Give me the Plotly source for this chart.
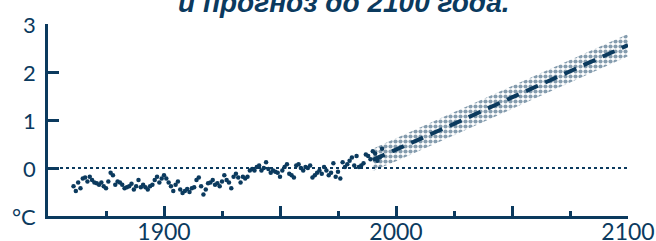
import plotly.graph_objects as go

NAVY = "#0b3a5e"

obs_years = list(range(1861, 1995))
obs_temp = [
    -0.38, -0.48, -0.30, -0.42, -0.22, -0.20, -0.28, -0.18, -0.25, -0.30,
    -0.32, -0.35, -0.30, -0.38, -0.42, -0.28, -0.10, -0.15, -0.35, -0.28,
    -0.30, -0.35, -0.42, -0.40, -0.38, -0.33, -0.45, -0.38, -0.25, -0.40,
    -0.35, -0.40, -0.45, -0.38, -0.35, -0.25, -0.18, -0.30, -0.22, -0.15,
    -0.22, -0.30, -0.38, -0.48, -0.35, -0.28, -0.45, -0.52, -0.48, -0.44,
    -0.50, -0.42, -0.40, -0.25, -0.20, -0.38, -0.55, -0.45, -0.32, -0.30,
    -0.25, -0.35, -0.32, -0.38, -0.28, -0.15, -0.25, -0.30, -0.42, -0.18,
    -0.12, -0.20, -0.30, -0.18, -0.22, -0.18, -0.05, -0.02, -0.05, 0.02,
    0.05, -0.05, 0.00, 0.12, -0.02, -0.10, -0.05, -0.08, -0.10, -0.18,
    -0.05, 0.02, 0.08, -0.12, -0.15, -0.20, 0.05, 0.08, 0.00, -0.05,
    0.02, 0.00, 0.05, -0.20, -0.15, -0.10, -0.05, -0.12, 0.02, -0.05,
    -0.15, -0.10, 0.10, -0.18, -0.08, -0.22, 0.12, 0.02, 0.08, 0.15,
    0.22, 0.05, 0.25, 0.02, 0.05, 0.10, 0.28, 0.25, 0.18, 0.35,
    0.30, 0.15, 0.22, 0.40,
]

proj_years = [1990, 2000, 2025, 2050, 2075, 2100]
proj_mid = [0.17, 0.38, 0.92, 1.47, 2.01, 2.56]
proj_low = [-0.06, 0.14, 0.68, 1.23, 1.77, 2.33]
proj_high = [0.40, 0.62, 1.16, 1.71, 2.25, 2.79]

zero_x = [1850, 2100]
zero_y = [0, 0]

x_tickvals = [1850, 1900, 1950, 2000, 2050, 2100]
x_ticktext = ["", "1900", "", "2000", "", "2100"]
y_tickvals = [-1, 0, 1, 2, 3]
y_ticktext = ["°C", "0", "1", "2", "3"]

title_text = "и прогноз до 2100 года."

fig = go.Figure()

fig.add_trace(go.Scatter(x=proj_years, y=proj_low, mode="lines",
                         line=dict(width=0, color="rgba(0,0,0,0)"),
                         hoverinfo="skip", showlegend=False))
fig.add_trace(go.Scatter(x=proj_years, y=proj_high, mode="lines",
                         line=dict(width=0, color="rgba(0,0,0,0)"),
                         fill="tonexty", fillcolor="rgba(0,0,0,0)",
                         fillpattern=dict(shape=".", size=5, solidity=0.55,
                                          fgcolor=NAVY, bgcolor="rgba(255,255,255,0)"),
                         hoverinfo="skip", showlegend=False))

fig.add_trace(go.Scatter(x=zero_x, y=zero_y, mode="lines",
                         line=dict(color=NAVY, width=2, dash="3px,3px"),
                         showlegend=False))

fig.add_trace(go.Scatter(x=obs_years, y=obs_temp, mode="markers",
                         marker=dict(color=NAVY, size=4.5),
                         showlegend=False))

fig.add_trace(go.Scatter(x=proj_years, y=proj_mid, mode="lines",
                         line=dict(color=NAVY, width=4, dash="13px,8px"),
                         showlegend=False))

annotations = [dict(text="<b><i>" + title_text + "</i></b>",
                    xref="paper", yref="paper", x=0.51, y=1.02,
                    xanchor="center", yanchor="bottom", showarrow=False,
                    font=dict(family="Liberation Sans", size=28, color=NAVY))]
for val, txt in zip(y_tickvals, y_ticktext):
    annotations.append(dict(text=txt, xref="paper", yref="y",
                            x=-0.019, y=val, xanchor="right", yanchor="middle",
                            showarrow=False, borderpad=0,
                            font=dict(family="Lato", size=22, color=NAVY)))

fig.update_layout(
    width=656, height=241,
    margin=dict(l=48, r=28, t=24, b=25),
    paper_bgcolor="white", plot_bgcolor="white",
    showlegend=False,
    annotations=annotations,
)

fig.update_xaxes(range=[1850, 2100], showgrid=False, zeroline=False,
                 automargin=False,
                 showline=True, linecolor=NAVY, linewidth=3,
                 ticks="inside", tickcolor=NAVY, tickwidth=3, ticklen=10,
                 tickvals=x_tickvals, ticktext=x_ticktext,
                 tickfont=dict(family="Lato", size=23, color=NAVY),
                 ticklabelstandoff=-7,
                 minor=dict(ticks="inside", dtick=25, tick0=1850, ticklen=5,
                            tickwidth=3, tickcolor=NAVY, showgrid=False))
fig.update_yaxes(range=[-1, 3], showgrid=False, zeroline=False,
                 automargin=False,
                 showline=True, linecolor=NAVY, linewidth=3,
                 ticks="inside", tickcolor=NAVY, tickwidth=3, ticklen=11,
                 tickvals=y_tickvals, showticklabels=False)

fig.write_html("out.html",
               config={"displayModeBar": False},
               post_script="document.body.style.margin='0';document.body.style.overflow='hidden';")
